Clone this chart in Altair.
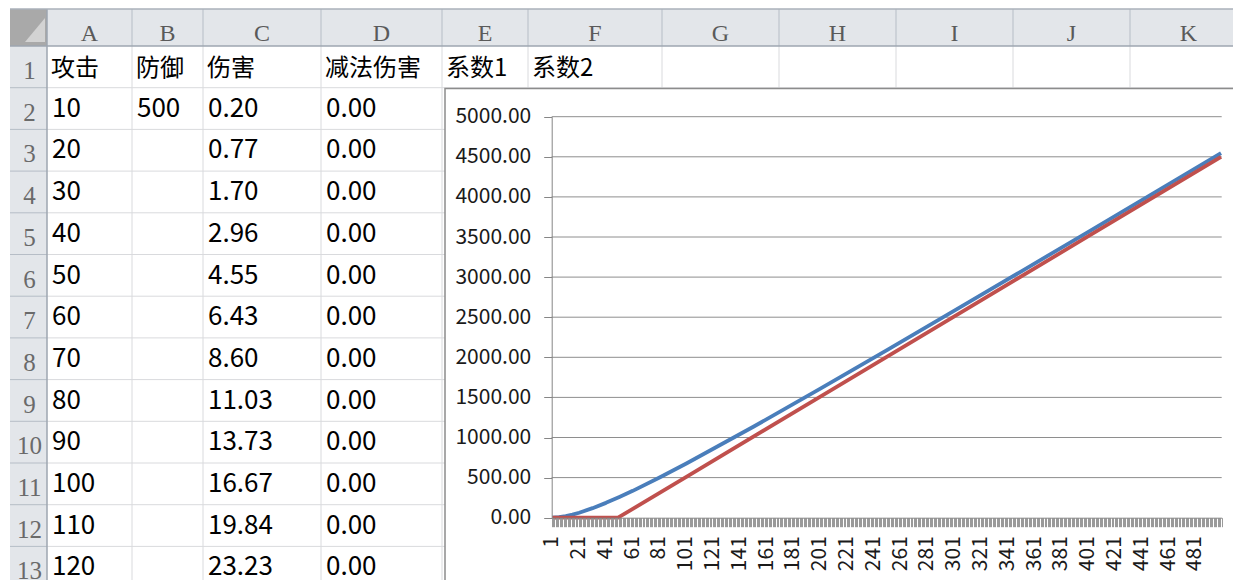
import altair as alt
import pandas as pd

# ---------------- data ----------------
COL_LETTERS = ["A", "B", "C", "D", "E", "F", "G", "H", "I", "J", "K"]
ROW_NUMBERS = [1, 2, 3, 4, 5, 6, 7, 8, 9, 10, 11, 12, 13]
HEADERS = ["攻击", "防御", "伤害", "减法伤害", "系数1", "系数2"]
ATTACK = ["10", "20", "30", "40", "50", "60", "70", "80", "90", "100", "110", "120"]
DEFENSE = ["500"]
DAMAGE = ["0.20", "0.77", "1.70", "2.96", "4.55", "6.43", "8.60", "11.03",
          "13.73", "16.67", "19.84", "23.23"]
SUB_DAMAGE = ["0.00", "0.00", "0.00", "0.00", "0.00", "0.00", "0.00", "0.00",
              "0.00", "0.00", "0.00", "0.00"]

# chart series (category index on x, value on y)
BLUE_CAT = [1, 6, 11, 16, 21, 31, 41, 51, 61, 81, 101, 151, 201, 251, 301, 351, 401, 451, 500]
BLUE_VAL = [0, 6, 20, 39, 62, 119, 185, 258, 335, 501, 676, 1134, 1610, 2093, 2581,
            3072, 3565, 4060, 4545]
RED_CAT = [1, 50, 101, 201, 301, 401, 500]
RED_VAL = [0, 0, 510, 1510, 2510, 3510, 4500]

Y_TICKS = [0, 500, 1000, 1500, 2000, 2500, 3000, 3500, 4000, 4500, 5000]
X_LABELS = [1, 21, 41, 61, 81, 101, 121, 141, 161, 181, 201, 221, 241, 261, 281,
            301, 321, 341, 361, 381, 401, 421, 441, 461, 481]
N_CATEGORIES = 500

# ---------------- layout (reference pixel positions) ----------------
COL_EDGES = [10, 47, 132, 203, 321, 442, 528, 662, 779, 896, 1013, 1130, 1247]
HEAD_TOP, HEAD_BOT = 13, 50
ROW_H = 41.7
CHART_BOX = (445, 92.5, 1262, 602)
PLOT_LEFT, PLOT_RIGHT, PLOT_BOTTOM, PLOT_TOP = 551.7, 1221.7, 521.7, 120.7
OFF_X, OFF_Y = 8, 12
W, H = 1225, 572

PX = alt.Scale(domain=[OFF_X, OFF_X + W], range=[0, W], nice=False, zero=False)
PY = alt.Scale(domain=[OFF_Y, OFF_Y + H], range=[0, H], nice=False, zero=False)

CELL_FONT = "Noto Sans CJK SC"
HEAD_FONT = "Liberation Serif"


def pos_enc(xf, yf, x2f=None, y2f=None):
    enc = dict(
        x=alt.X(xf, type="quantitative", scale=PX, axis=None),
        y=alt.Y(yf, type="quantitative", scale=PY, axis=None),
    )
    if x2f:
        enc["x2"] = alt.X2(x2f)
    if y2f:
        enc["y2"] = alt.Y2(y2f)
    return enc


# background fills
bg_df = pd.DataFrame([
    dict(x1=COL_EDGES[0], x2=1262, y1=HEAD_TOP, y2=HEAD_BOT, c="#e3e6ea"),
    dict(x1=COL_EDGES[0], x2=COL_EDGES[1], y1=HEAD_BOT, y2=602, c="#e3e6ea"),
    dict(x1=COL_EDGES[0], x2=COL_EDGES[1], y1=HEAD_TOP, y2=HEAD_BOT, c="#a9a9a9"),
])
bg = alt.Chart(bg_df).mark_rect().encode(
    **pos_enc("x1", "y1", "x2", "y2"), color=alt.Color("c:N", scale=None))

tri_df = pd.DataFrame([dict(x=25, y=46, y2=46), dict(x=45, y=22, y2=46)])
tri = alt.Chart(tri_df).mark_area(color="#d3d3d3").encode(**pos_enc("x", "y", None, "y2"))

# grid lines
n_rows = len(ROW_NUMBERS)
rule_rows = []
for e in COL_EDGES[2:-1]:
    rule_rows.append(dict(x1=e, x2=e, y1=HEAD_BOT, y2=602, c="#d9dadd", w=1))
    rule_rows.append(dict(x1=e, x2=e, y1=HEAD_TOP, y2=HEAD_BOT, c="#b6bdc6", w=1))
for r in range(1, n_rows + 1):
    yy = HEAD_BOT + r * ROW_H
    rule_rows.append(dict(x1=COL_EDGES[1], x2=1262, y1=yy, y2=yy, c="#d9dadd", w=1))
    rule_rows.append(dict(x1=COL_EDGES[0], x2=COL_EDGES[1], y1=yy, y2=yy, c="#b6bdc6", w=1))
rule_rows.append(dict(x1=COL_EDGES[0], x2=1262, y1=HEAD_BOT, y2=HEAD_BOT, c="#9ea6b0", w=1.5))
rule_rows.append(dict(x1=COL_EDGES[1], x2=COL_EDGES[1], y1=HEAD_TOP, y2=602, c="#9ea6b0", w=1.5))
rule_rows.append(dict(x1=COL_EDGES[0], x2=1262, y1=HEAD_TOP, y2=HEAD_TOP, c="#aab1ba", w=1.5))
grid = alt.Chart(pd.DataFrame(rule_rows)).mark_rule().encode(
    **pos_enc("x1", "y1", "x2", "y2"),
    color=alt.Color("c:N", scale=None), size=alt.Size("w:Q", scale=None))

# column letters
col_df = pd.DataFrame([
    dict(x=(COL_EDGES[i + 1] + COL_EDGES[i + 2]) / 2, y=45, t=L)
    for i, L in enumerate(COL_LETTERS)
])
col_text = alt.Chart(col_df).mark_text(
    font=HEAD_FONT, fontSize=24, color="#5a5a5a", align="center", baseline="alphabetic"
).encode(**pos_enc("x", "y"), text="t:N")

# row numbers
row_df = pd.DataFrame([
    dict(x=(COL_EDGES[0] + COL_EDGES[1]) / 2 + 1, y=HEAD_BOT + (n - 1) * ROW_H + 33, t=str(n))
    for n in ROW_NUMBERS
])
row_text = alt.Chart(row_df).mark_text(
    font=HEAD_FONT, fontSize=25, color="#6a6a6a", align="center", baseline="alphabetic"
).encode(**pos_enc("x", "y"), text="t:N")

# row 1 headers
hdr_df = pd.DataFrame([
    dict(x=COL_EDGES[i + 1] + 4, y=HEAD_BOT + 30, t=h) for i, h in enumerate(HEADERS)
])
hdr_text = alt.Chart(hdr_df).mark_text(
    font=CELL_FONT, fontSize=24, color="#000000", align="left", baseline="alphabetic"
).encode(**pos_enc("x", "y"), text="t:N")

# cell values
cells = []
for col_i, values in enumerate([ATTACK, DEFENSE, DAMAGE, SUB_DAMAGE]):
    for k, v in enumerate(values):
        cells.append(dict(x=COL_EDGES[col_i + 1] + 5, y=HEAD_BOT + (k + 1) * ROW_H + 29, t=v))
cell_text = alt.Chart(pd.DataFrame(cells)).mark_text(
    font=CELL_FONT, fontSize=26, color="#000000", align="left", baseline="alphabetic"
).encode(**pos_enc("x", "y"), text="t:N")

# chart box
box_df = pd.DataFrame([dict(x1=CHART_BOX[0], y1=CHART_BOX[1], x2=CHART_BOX[2], y2=CHART_BOX[3])])
box = alt.Chart(box_df).mark_rect(fill="white", stroke="#8c8c8c", strokeWidth=1.5).encode(
    **pos_enc("x1", "y1", "x2", "y2"))

# ---------------- the line chart ----------------
XS = alt.Scale(domain=[0.5, N_CATEGORIES + 0.5], range=[PLOT_LEFT - OFF_X, PLOT_RIGHT - OFF_X],
               nice=False, zero=False)
YS = alt.Scale(domain=[Y_TICKS[0], Y_TICKS[-1]], range=[PLOT_BOTTOM - OFF_Y, PLOT_TOP - OFF_Y],
               nice=False, zero=False)

tick_positions = [k + 0.5 for k in range(N_CATEGORIES + 1)]
label_expr = (f"indexof({X_LABELS}, datum.value + 0.5) >= 0 ? "
              "format(datum.value + 0.5, 'd') : ''")

XAXIS = alt.Axis(
    orient="bottom", offset=(PLOT_BOTTOM - OFF_Y) - H, values=tick_positions,
    labelExpr=label_expr, labelAngle=270, labelAlign="right", labelBaseline="middle",
    labelPadding=9, labelOverlap=False, labelFlush=False, labelBound=False,
    tickSize=9, tickColor="#9a9a9a", tickWidth=1, domainColor="#868686",
    labelFont=CELL_FONT, labelFontSize=21, labelColor="#1a1a1a", grid=False, title=None,
    zindex=2)
YAXIS = alt.Axis(
    orient="left", offset=-(PLOT_LEFT - OFF_X), values=Y_TICKS, format=".2f",
    tickSize=8, tickColor="#868686", domainColor="#868686", labelPadding=13,
    labelFont=CELL_FONT, labelFontSize=21, labelColor="#1a1a1a", labelFlush=False,
    labelOverlap=False, grid=False, title=None, zindex=2)

gl_df = pd.DataFrame(dict(v=Y_TICKS[1:], a=[0.5] * (len(Y_TICKS) - 1),
                          b=[N_CATEGORIES + 0.5] * (len(Y_TICKS) - 1)))
gridlines = alt.Chart(gl_df).mark_rule(color="#8e8e8e", strokeWidth=1).encode(
    x=alt.X("a:Q", scale=XS, axis=XAXIS), x2="b:Q",
    y=alt.Y("v:Q", scale=YS, axis=YAXIS))

blue_df = pd.DataFrame(dict(cat=BLUE_CAT, val=BLUE_VAL))
red_df = pd.DataFrame(dict(cat=RED_CAT, val=RED_VAL))
blue = alt.Chart(blue_df).mark_line(color="#4a7ebb", strokeWidth=3.8, strokeJoin="round").encode(
    x=alt.X("cat:Q", scale=XS, axis=XAXIS), y=alt.Y("val:Q", scale=YS, axis=YAXIS))
red = alt.Chart(red_df).mark_line(color="#c0504d", strokeWidth=3.8, strokeJoin="round").encode(
    x=alt.X("cat:Q", scale=XS, axis=XAXIS), y=alt.Y("val:Q", scale=YS, axis=YAXIS))

line_chart = alt.layer(gridlines, blue, red)

chart = alt.layer(
    bg, tri, grid, col_text, row_text, hdr_text, cell_text, box, line_chart
).resolve_scale(x="independent", y="independent").properties(
    width=W, height=H, padding=0, autosize=alt.AutoSizeParams(type="none"),
    background="white"
).configure_view(stroke=None)

chart.save("out.html", embed_options={"renderer": "svg", "actions": False})
